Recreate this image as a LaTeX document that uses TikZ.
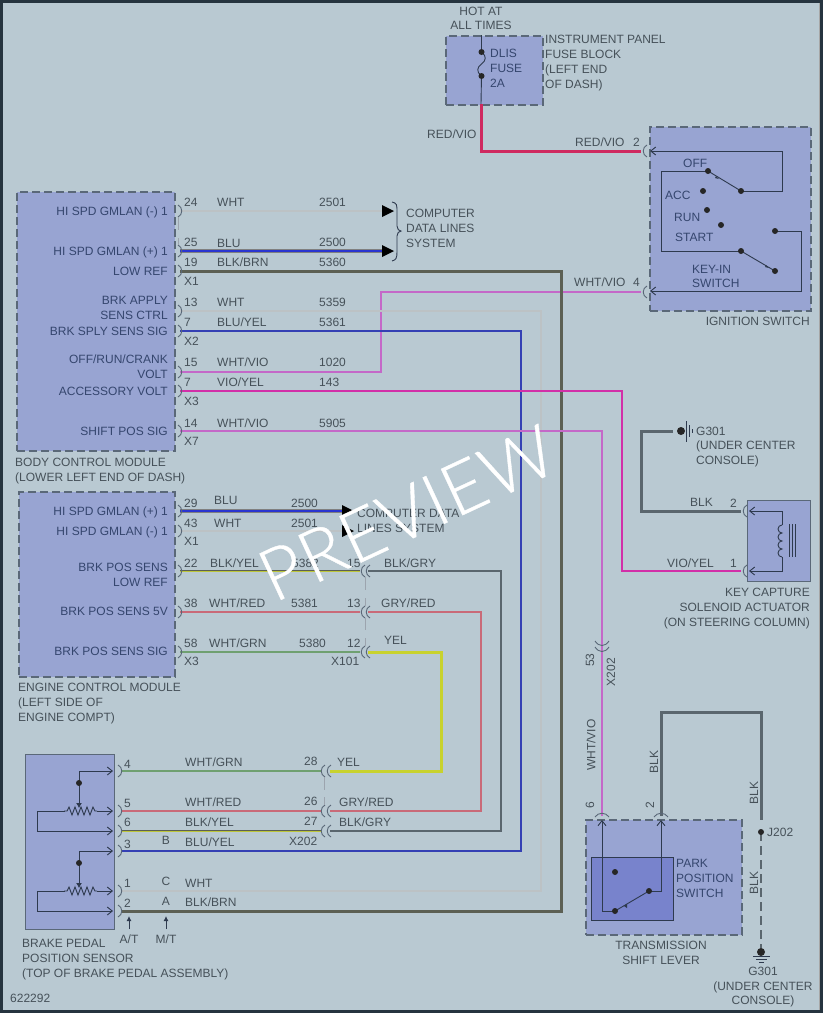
\documentclass[tikz,border=0pt]{standalone}
\usepackage{fontspec}
\setmainfont{Liberation Sans}
\newfontfamily\wmfont[FakeBold=0.5,LetterSpace=2]{Lato Light}
\usetikzlibrary{arrows.meta,calc}
\definecolor{bg}{HTML}{B9C9D2}
\definecolor{frame}{HTML}{26343F}
\definecolor{modfill}{HTML}{98A4D2}
\definecolor{innerfill}{HTML}{7883CC}
\definecolor{edge}{HTML}{5A6878}
\definecolor{txt}{HTML}{465159}
\definecolor{mtxt}{HTML}{35466E}
\definecolor{ink}{HTML}{2E3A4E}
\definecolor{cBlue}{HTML}{2A35D0}
\definecolor{cRed}{HTML}{CF2A60}
\definecolor{cVio}{HTML}{C468C8}
\definecolor{cVY}{HTML}{D22FA8}
\definecolor{cYel}{HTML}{C8D22E}
\definecolor{cBlk}{HTML}{5A666E}
\definecolor{cBrn}{HTML}{5C6054}
\definecolor{cWht}{HTML}{CBD3D6}
\definecolor{cGrn}{HTML}{6FA070}
\definecolor{cGR}{HTML}{C96A78}
\definecolor{cBY}{HTML}{3440B4}
\tikzset{
  base font/.style={font=\fontsize{12}{14}\selectfont},
  lbl/.style={base font,text=txt,inner sep=0pt,yshift=-4.2pt},
  modbox/.style={fill=modfill,draw=edge,line width=1.5pt,dash pattern=on 8pt off 4pt,inner sep=0pt,anchor=north west},
  solidbox/.style={fill=modfill,draw=edge,line width=1.3pt,inner sep=0pt,anchor=north west},
  thinw/.style={draw=ink,line width=.9pt,line join=miter},
  pinline/.style={draw=#1,line width=.9pt},
  pinline/.default=edge,
  wWht/.style={draw=cWht!80!gray,line width=2pt},
  wGrn/.style={draw=cGrn,line width=2pt},
  wVio/.style={draw=cVio,line width=2pt},
  wGR/.style={draw=cGR,line width=2pt},
  wBY/.style={draw=cBY,line width=2.3pt},
  wBlue/.style={draw=gray,double=cBlue,double distance=2.2pt,line width=.6pt},
  wRed/.style={draw=cRed,line width=3pt},
  wVY/.style={draw=orange!70!gray,double=cVY,double distance=1.8pt,line width=.4pt},
  wBlk/.style={draw=cBlk,line width=3pt},
  wBrn/.style={draw=cBrn,line width=3pt},
  wYel/.style={draw=cYel,line width=3pt},
  wBlkY/.style={draw=cYel!85!gray,line width=2.6pt,postaction={draw=cBrn,line width=1.2pt,transform canvas={yshift=.7pt}}},
  wBG/.style={draw=cBlk,line width=2.4pt},
  dotm/.style={circle,fill=black!85,inner sep=0pt,minimum size=6pt},
  vbarb/.style={-{Straight Barb[length=5pt,width=8pt]}},
}
\newcounter{lblc}
\newcommand\Lw[3]{\stepcounter{lblc}\node[lbl,anchor=base west] (L\arabic{lblc}) at (#1,#2) {#3};}
\newcommand\Le[3]{\stepcounter{lblc}\node[lbl,anchor=base east] (L\arabic{lblc}) at (#1,#2) {#3};}
\newcommand\Lc[3]{\stepcounter{lblc}\node[lbl,anchor=base] (L\arabic{lblc}) at (#1,#2) {#3};}
\newcommand\Mw[3]{\stepcounter{lblc}\node[lbl,anchor=base west,text=mtxt] (L\arabic{lblc}) at (#1,#2) {#3};}
\newcommand\Me[3]{\stepcounter{lblc}\node[lbl,anchor=base east,text=mtxt] (L\arabic{lblc}) at (#1,#2) {#3};}
\newcommand\Lv[3]{\stepcounter{lblc}\node[base font,text=txt,inner sep=0pt,rotate=90] (L\arabic{lblc}) at (#1,#2) {#3};}
\newcommand\pinR[2]{\draw[pinline] ({#1-2},{#2-6}) .. controls ({#1+3},{#2-4}) and ({#1+3},{#2+4}) .. ({#1-2},{#2+6});}
\newcommand\pinL[2]{\draw[pinline] ({#1+2},{#2-6}) .. controls ({#1-3},{#2-4}) and ({#1-3},{#2+4}) .. ({#1+2},{#2+6});}
\newcommand\pinT[2]{\draw[pinline] ({#1-7},{#2+3}) .. controls ({#1-4},{#2-2}) and ({#1+4},{#2-2}) .. ({#1+7},{#2+3});}
\newcommand\headR[2]{\fill[black] (#1,{#2-6}) -- ({#1+12},#2) -- (#1,{#2+6}) -- cycle;}
\newcommand\zig[2]{\draw[thinw] (#1,#2) -- ++(3,0) -- ++(2,-4) -- ++(3,8) -- ++(3,-8) -- ++(3,8) -- ++(3,-8) -- ++(3,8) -- ++(3,-8) -- ++(3,8) -- ++(3,-8) -- ++(2,4) -- ++(2,0);}
\begin{document}
\begin{tikzpicture}[x=1pt,y=-1pt]
\useasboundingbox (0,0) rectangle (823,1013);
\fill[frame] (0,0) rectangle (823,1013);
\fill[bg] (3,3) rectangle (820,1010);
\draw[gray!70,line width=.8pt] (819.5,3) -- (819.5,1010);

% ---------- modules
\node[modbox,minimum width=97pt,minimum height=69pt] (fuseblock) at (445,35) {};
\node[modbox,minimum width=161pt,minimum height=184pt] (ignsw) at (649,126) {};
\node[modbox,minimum width=158pt,minimum height=259pt] (bcm) at (16,191) {};
\node[modbox,minimum width=156pt,minimum height=185pt] (ecm) at (18,491) {};
\node[solidbox,minimum width=89pt,minimum height=175pt] (bpps) at (25,754) {};
\node[solidbox,minimum width=63pt,minimum height=81pt] (kcsa) at (747,500) {};
\node[modbox,minimum width=156pt,minimum height=115pt] (tsl) at (585,819) {};
\node[fill=innerfill,draw=ink,line width=.9pt,inner sep=0pt,anchor=north west,minimum width=82pt,minimum height=63pt] (pps) at (591,857) {};

% ---------- named wire ends
\coordinate (fuseOut) at (481,104);
\coordinate (ign2) at (641,151);
\coordinate (ign4) at (641,292);
\coordinate (bcm24) at (180,211);
\coordinate (bcm25) at (180,251);
\coordinate (bcm19) at (180,271);
\coordinate (bcm13) at (180,311);
\coordinate (bcm7a) at (180,331);
\coordinate (bcm15) at (180,372);
\coordinate (bcm7b) at (180,391);
\coordinate (bcm14) at (180,431);
\coordinate (cdl1) at (382,211);
\coordinate (cdl2) at (382,251);
\coordinate (ecm29) at (180,511);
\coordinate (ecm43) at (180,531);
\coordinate (ecm22) at (180,571);
\coordinate (ecm38) at (180,612);
\coordinate (ecm58) at (180,652);
\coordinate (cdl3) at (342,511);
\coordinate (cdl4) at (342,531);
\coordinate (x15a) at (360,571);
\coordinate (x15b) at (368,571);
\coordinate (x13a) at (360,612);
\coordinate (x13b) at (368,612);
\coordinate (x12a) at (360,652);
\coordinate (x12b) at (368,652);
\coordinate (sp4) at (122,771);
\coordinate (sp5) at (122,811);
\coordinate (sp6) at (122,831);
\coordinate (sp3) at (122,851);
\coordinate (sp1) at (122,891);
\coordinate (sp2) at (122,911);
\coordinate (x28a) at (321,771);
\coordinate (x28b) at (330,771);
\coordinate (x26a) at (321,811);
\coordinate (x26b) at (330,811);
\coordinate (x27a) at (321,831);
\coordinate (x27b) at (330,831);
\coordinate (kc1) at (741,571);
\coordinate (kc2) at (741,511);
\coordinate (g301top) at (673,431);
\coordinate (t6) at (602,816);
\coordinate (t2) at (661,816);
\coordinate (j202) at (761,832);
\coordinate (g301bot) at (761,948);

% ---------- wires
\draw[wRed] (fuseOut) -- (481,151) -- (ign2);
\draw[wVio] (bcm15) -- (381,372) -- (381,292) -- (ign4);
\draw[wWht] (bcm24) -- (cdl1);
\draw[wBlue] (bcm25) -- (cdl2);
\draw[wWht] (bcm13) -- (541,311) -- (541,891) -- (sp1);
\draw[wBY] (bcm7a) -- (521,331) -- (521,851) -- (sp3);
\draw[wBrn] (bcm19) -- (561,271) -- (561,911) -- (sp2);
\draw[wVY] (bcm7b) -- (622,391) -- (622,571) -- (kc1);
\draw[wVio] (bcm14) -- (602,431) -- (t6);
\draw[wBlue] (ecm29) -- (cdl3);
\draw[wWht] (ecm43) -- (cdl4);
\draw[wBlkY] (ecm22) -- (x15a);
\draw[wGR] (ecm38) -- (x13a);
\draw[wGrn] (ecm58) -- (x12a);
\draw[wBG] (x15b) -- (501,571) -- (501,831) -- (x27b);
\draw[wGR] (x13b) -- (481,612) -- (481,811) -- (x26b);
\draw[wYel] (x12b) -- (441,652) -- (441,771) -- (x28b);
\draw[wGrn] (sp4) -- (x28a);
\draw[wGR] (sp5) -- (x26a);
\draw[wBlkY] (sp6) -- (x27a);
\draw[wBlk] (g301top) -- (641,431) -- (641,511) -- (kc2);
\draw[wBlk] (t2) -- (661,712) -- (761,712) -- (761,820);
\draw[wBlk,line width=2pt,dash pattern=on 9pt off 5pt] (j202) -- (g301bot);

% ---------- arrow heads to computer data lines
\headR{382}{211}\headR{382}{251}\headR{342}{511}\headR{342}{531}

% ---------- connector bodies
\foreach \y in {211,251,271,311,331,372,391,431,511,531,571,612,652}{\pinR{180}{\y}}
\foreach \y in {771,811,831,851,891,911}{\pinR{120}{\y}}
\pinL{363}{571}\pinL{368}{571}
\pinL{363}{612}\pinL{368}{612}
\pinL{363}{652}\pinL{368}{652}
\pinL{323}{771}\pinL{329}{771}
\pinL{323}{811}\pinL{329}{811}
\pinL{323}{831}\pinL{329}{831}
\pinL{645}{151}\pinL{645}{292}
\pinL{745}{511}\pinL{745}{571}
\pinT{602}{814}\pinT{661}{814}
\draw[pinline] (595,641) .. controls (599,647) and (605,647) .. (609,641);
\draw[pinline] (595,647) .. controls (599,653) and (605,653) .. (609,647);
\draw[pinline,edge!60] (178,217) -- (178,230) (178,238) -- (178,245);
\draw[pinline,edge!60] (365,577) -- (365,590) (365,598) -- (365,606) (365,618) -- (365,630) (365,638) -- (365,646);
\draw[pinline,edge!60] (324,777) -- (324,790) (324,797) -- (324,805);

% ---------- fuse block innards
\draw[thinw] (481.5,35) -- (481.5,52) .. controls (487,56) and (486,61) .. (481.5,64) .. controls (477,67) and (476,72) .. (481.5,76) -- (fuseOut);
\node[dotm] (fd1) at (481.5,52) {};
\node[dotm] (fd2) at (481.5,76) {};

% ---------- ignition switch
\coordinate (ia2) at (650,151);
\coordinate (ia4) at (650,291);
\draw[thinw,vbarb] (741,191) -- (782,191) -- (782,151) -- (ia2);
\draw[thinw] (708,171) -- (661,171) -- (661,251) -- (741,251);
\draw[thinw] (741,191) -- (708,171);
\draw[thinw] (741,251) -- (775,271);
\draw[thinw,vbarb] (775,231) -- (801,231) -- (801,291) -- (ia4);
\foreach \n/\p in {sa/{741,191},sb/{708,171},sc/{703,191},sd/{707,210},se/{721,225},sf/{741,251},sg/{775,271},sh/{775,231}}{\node[dotm] (\n) at (\p) {};}
\fill[ink] (716,176) -- (719,179) -- (715,178) -- cycle;
\fill[ink] (766,265) -- (769,268) -- (765,267) -- cycle;

% ---------- brake pedal sensor innards
\draw[thinw,vbarb] (79,771) -- (113,771);
\draw[thinw,-{Latex[length=5pt,width=6pt]}] (79,771) -- (79,808);
\node[dotm] (r1d) at (79,783) {};
\draw[thinw,vbarb] (37,831) -- (113,831);
\draw[thinw] (65,811) -- (37,811) -- (37,831);
\zig{64}{811}
\draw[thinw,vbarb] (97,811) -- (113,811);
\draw[thinw,vbarb] (79,851) -- (113,851);
\draw[thinw,-{Latex[length=5pt,width=6pt]}] (79,851) -- (79,888);
\node[dotm] (r2d) at (79,863) {};
\draw[thinw,vbarb] (37,911) -- (113,911);
\draw[thinw] (65,891) -- (37,891) -- (37,911);
\zig{64}{891}
\draw[thinw,vbarb] (97,891) -- (113,891);
\coordinate (atTip) at (129,916);
\coordinate (mtTip) at (166,916);
\draw[thinw,-{Latex[length=5pt,width=5pt]}] (129,929) -- (atTip);
\draw[thinw,-{Latex[length=5pt,width=5pt]}] (166,929) -- (mtTip);

% ---------- solenoid
\draw[thinw,vbarb] (782,525) -- (782,511) -- (749,511);
\draw[thinw,vbarb] (782,557) -- (782,571) -- (749,571);
\draw[thinw] (782,525) arc[start angle=-90,end angle=90,radius=-4pt] arc[start angle=-90,end angle=90,radius=-4pt] arc[start angle=-90,end angle=90,radius=-4pt] arc[start angle=-90,end angle=90,radius=-4pt];
\draw[ink,line width=.7pt] (789,524) -- (789,557) (792,524) -- (792,557) (795,524) -- (795,557);

% ---------- park position switch
\draw[thinw,vbarb] (615,911) -- (602,911) -- (602,820);
\draw[thinw] (615,911) -- (649,891);
\draw[thinw,vbarb] (649,891) -- (661,891) -- (661,820);
\node[dotm] (pa) at (615,911) {};
\node[dotm] (pb) at (649,891) {};
\node[dotm] (pc) at (615,872) {};
\fill[ink] (624,906) -- (627,904) -- (627,908) -- cycle;

% ---------- grounds
\node[dotm,minimum size=8pt] (gnd1) at (681,431) {};
\draw[ink,line width=.8pt] (686,421) -- (686,442) (689,425) -- (689,437) (692,429) -- (692,433);
\node[dotm] (j202d) at (761,832) {};
\node[dotm,minimum size=8pt] (gnd2) at (761,952) {};
\draw[ink,line width=.8pt] (753,956) -- (770,956) (756,959) -- (767,959) (759,962) -- (764,962);

% ---------- brace
\draw[ink,line width=.9pt] (392,202) .. controls (397,203) and (397,205) .. (397,212) -- (397,226) .. controls (397,229) and (399,231) .. (401,231) .. controls (399,231) and (397,233) .. (397,236) -- (397,252) .. controls (397,258) and (396,260) .. (392,261);

% ---------- labels
\Lc{481}{11}{HOT AT}
\Lc{481}{25}{ALL TIMES}
\Lw{545}{39}{INSTRUMENT PANEL}
\Lw{545}{54}{FUSE BLOCK}
\Lw{545}{69}{(LEFT END}
\Lw{545}{84}{OF DASH)}
\Mw{490}{53}{DLIS}
\Mw{490}{68}{FUSE}
\Mw{490}{83}{2A}
\Lw{427}{134}{RED/VIO}
\Lw{575}{142}{RED/VIO}
\Lw{633}{142}{2}
\Lw{574}{282}{WHT/VIO}
\Lw{633}{282}{4}
\Mw{683}{163}{OFF}
\Mw{665}{195}{ACC}
\Mw{674}{217}{RUN}
\Mw{675}{237}{START}
\Mw{692}{269}{KEY-IN}
\Mw{692}{283}{SWITCH}
\Le{810}{321}{IGNITION SWITCH}
% BCM
\Me{168}{211}{HI SPD GMLAN (-) 1}
\Me{168}{251}{HI SPD GMLAN (+) 1}
\Me{168}{271}{LOW REF}
\Me{168}{300}{BRK APPLY}
\Me{168}{315}{SENS CTRL}
\Me{168}{331}{BRK SPLY SENS SIG}
\Me{168}{359}{OFF/RUN/CRANK}
\Me{168}{374}{VOLT}
\Me{168}{391}{ACCESSORY VOLT}
\Me{168}{431}{SHIFT POS SIG}
\Lw{15}{462}{BODY CONTROL MODULE}
\Lw{15}{477}{(LOWER LEFT END OF DASH)}
\Lw{184}{202}{24}\Lw{217}{202}{WHT}\Lw{319}{202}{2501}
\Lw{184}{242}{25}\Lw{217}{243}{BLU}\Lw{319}{242}{2500}
\Lw{184}{262}{19}\Lw{217}{262}{BLK/BRN}\Lw{319}{262}{5360}
\Lw{184}{281}{X1}
\Lw{184}{302}{13}\Lw{217}{302}{WHT}\Lw{319}{302}{5359}
\Lw{184}{322}{7}\Lw{217}{322}{BLU/YEL}\Lw{319}{322}{5361}
\Lw{184}{341}{X2}
\Lw{184}{362}{15}\Lw{217}{362}{WHT/VIO}\Lw{319}{362}{1020}
\Lw{184}{382}{7}\Lw{217}{382}{VIO/YEL}\Lw{319}{382}{143}
\Lw{184}{401}{X3}
\Lw{184}{423}{14}\Lw{217}{423}{WHT/VIO}\Lw{319}{423}{5905}
\Lw{184}{441}{X7}
\Lw{406}{213}{COMPUTER}
\Lw{406}{228}{DATA LINES}
\Lw{406}{243}{SYSTEM}
% ECM
\Me{168}{511}{HI SPD GMLAN (+) 1}
\Me{168}{531}{HI SPD GMLAN (-) 1}
\Me{168}{567}{BRK POS SENS}
\Me{168}{582}{LOW REF}
\Me{168}{611}{BRK POS SENS 5V}
\Me{168}{651}{BRK POS SENS SIG}
\Lw{18}{687}{ENGINE CONTROL MODULE}
\Lw{18}{702}{(LEFT SIDE OF}
\Lw{18}{717}{ENGINE COMPT)}
\Lw{184}{503}{29}\Lw{214}{500}{BLU}\Lw{291}{503}{2500}
\Lw{184}{523}{43}\Lw{214}{523}{WHT}\Lw{291}{523}{2501}
\Lw{184}{541}{X1}
\Lw{184}{563}{22}\Lw{210}{563}{BLK/YEL}\Lw{292}{563}{5382}\Lw{347}{563}{15}
\Lw{184}{603}{38}\Lw{209}{603}{WHT/RED}\Lw{291}{603}{5381}\Lw{347}{603}{13}
\Lw{184}{643}{58}\Lw{209}{643}{WHT/GRN}\Lw{299}{643}{5380}\Lw{347}{643}{12}
\Lw{184}{661}{X3}\Lw{331}{661}{X101}
\Lw{357}{513}{COMPUTER DATA}
\Lw{357}{528}{LINES SYSTEM}
\Lw{384}{563}{BLK/GRY}
\Lw{381}{603}{GRY/RED}
\Lw{384}{640}{YEL}
% sensor
\Lw{124}{764}{4}\Lw{124}{803}{5}\Lw{124}{822}{6}\Lw{124}{844}{3}\Lw{124}{883}{1}\Lw{124}{903}{2}
\Lw{185}{762}{WHT/GRN}\Lw{185}{802}{WHT/RED}\Lw{185}{822}{BLK/YEL}\Lw{185}{842}{BLU/YEL}
\Lw{185}{883}{WHT}\Lw{185}{902}{BLK/BRN}
\Lc{166}{840}{B}\Lc{166}{881}{C}\Lc{166}{901}{A}
\Lw{304}{761}{28}\Lw{304}{801}{26}\Lw{304}{821}{27}\Lw{289}{841}{X202}
\Lw{337}{762}{YEL}\Lw{339}{802}{GRY/RED}\Lw{339}{822}{BLK/GRY}
\Lc{129}{939}{A/T}\Lc{166}{939}{M/T}
\Lw{22}{943}{BRAKE PEDAL}
\Lw{22}{958}{POSITION SENSOR}
\Lw{22}{973}{(TOP OF BRAKE PEDAL ASSEMBLY)}
\Lw{10}{998}{622292}
% right side
\Lw{696}{431}{G301}
\Lw{696}{445}{(UNDER CENTER}
\Lw{696}{460}{CONSOLE)}
\Lw{690}{502}{BLK}\Lw{730}{503}{2}
\Lw{667}{563}{VIO/YEL}\Lw{730}{563}{1}
\Le{810}{592}{KEY CAPTURE}
\Le{810}{607}{SOLENOID ACTUATOR}
\Le{810}{622}{(ON STEERING COLUMN)}
\Lv{590}{660}{53}
\Lv{611}{672}{X202}
\Lv{591}{745}{WHT/VIO}
\Lv{654}{762}{BLK}
\Lv{754}{793}{BLK}
\Lv{754}{883}{BLK}
\Lv{590}{805}{6}
\Lv{650}{805}{2}
\Lw{767}{832}{J202}
\Mw{676}{863}{PARK}
\Mw{676}{878}{POSITION}
\Mw{676}{893}{SWITCH}
\Lc{661}{945}{TRANSMISSION}
\Lc{661}{960}{SHIFT LEVER}
\Lc{763}{971}{G301}
\Lc{763}{986}{(UNDER CENTER}
\Lc{763}{1000}{CONSOLE)}

% ---------- watermark
\node[text=white,inner sep=0pt,rotate=25,font=\wmfont\fontsize{72}{80}\selectfont] (wm) at (407,513) {PREVIEW};
\end{tikzpicture}
\end{document}
